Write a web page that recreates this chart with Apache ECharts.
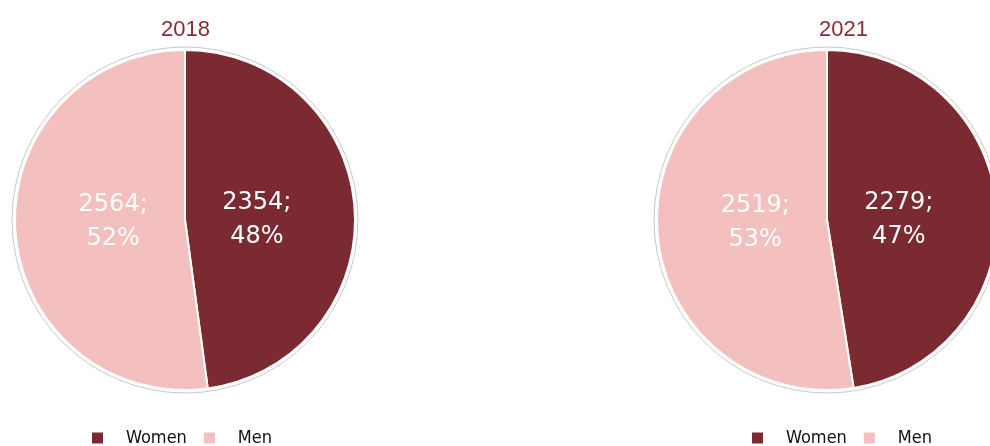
<!DOCTYPE html>
<html><head><meta charset="utf-8">
<script src="https://cdn.jsdelivr.net/npm/echarts@6/dist/echarts.min.js"></script>
<style>html,body{margin:0;padding:0;background:#fff}#c{width:990px;height:446px}</style>
</head><body><div id="c"></div>
<script>
const years = ['2018', '2021'];
const categories = ['Women', 'Men'];
const values2018 = [2354, 2564];
const values2021 = [2279, 2519];
const pct2018 = [48, 52];
const pct2021 = [47, 53];

const colors = ['#7B2A32', '#F4BFBF'];
const centers = [[185, 220], [827, 220]];
const titleLeft = [156, 814];
const allVals = [values2018, values2021];
const allPct = [pct2018, pct2021];

const chart = echarts.init(document.getElementById('c'), null, {renderer: 'canvas'});
const series = [];
years.forEach((y, i) => {
  const data = categories.map((c, k) => ({name: c, value: allVals[i][k], pct: allPct[i][k],
    label: {offset: [0, k === 0 ? 5 : -3]}}));
  series.push({
    type: 'pie', silent: true, center: centers[i], radius: [0, 173],
    label: {show: false}, labelLine: {show: false}, legendHoverLink: false,
    itemStyle: {color: '#fff', borderColor: '#c8c8c8', borderWidth: 1},
    data: [{name: '_bg', value: 1}], z: 1, animation: false
  });
  series.push({
    type: 'pie', center: centers[i], radius: [0, 170], startAngle: 90, clockwise: true,
    label: {show: false}, labelLine: {show: false},
    itemStyle: {borderColor: '#fff', borderWidth: 2},
    color: colors, data: data.map(d => ({name: d.name, value: d.value})), z: 2, animation: false
  });
  series.push({
    type: 'pie', silent: true, center: centers[i], radius: [0, 138], startAngle: 90, clockwise: true,
    itemStyle: {color: 'rgba(0,0,0,0)'}, labelLine: {show: false},
    label: {show: true, position: 'inside', color: '#fff', fontSize: 24, lineHeight: 34,
      fontFamily: 'DejaVu Sans, sans-serif',
      formatter: p => p.value + ';\n' + p.data.pct + '%'},
    data: data, z: 3, animation: false
  });
});

chart.setOption({
  animation: false,
  color: colors,
  title: years.map((y, i) => ({
    text: y, left: titleLeft[i], top: 14,
    textStyle: {color: '#8B2C35', fontSize: 22, fontWeight: 'normal', fontFamily: 'Liberation Sans, Arial, sans-serif'}
  })),
  legend: [90, 750].map(l => ({
    left: l, top: 429, padding: 0, icon: 'rect', itemWidth: 13, itemHeight: 13, itemGap: 15,
    data: categories, selectedMode: false,
    textStyle: {fontSize: 18, color: '#111', padding: [0, 0, 0, 17], fontFamily: 'DejaVu Sans Condensed, Liberation Sans, sans-serif'}
  })),
  series: series
});
</script></body></html>
